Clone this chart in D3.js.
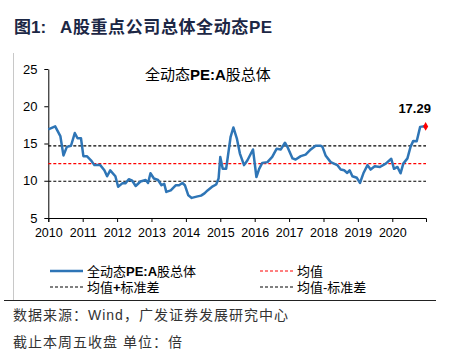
<!DOCTYPE html>
<html><head><meta charset="utf-8">
<script src="https://cdn.jsdelivr.net/npm/d3@7"></script>
<style>
body{margin:0;background:#fff;}
text{font-family:"Liberation Sans",Arial,"Noto Sans CJK SC",sans-serif;}
.cjk{font-family:"Liberation Sans","Noto Sans CJK SC",sans-serif;}
</style></head>
<body><svg id="c" width="452" height="358"></svg>
<script>
// decimal-year dates and PE values
const dates = [2010.0,2010.2,2010.35,2010.44,2010.54,2010.66,2010.77,2010.85,2010.95,2011.02,2011.12,2011.24,2011.34,2011.51,2011.63,2011.71,2011.8,2011.95,2012.03,2012.15,2012.24,2012.34,2012.44,2012.54,2012.68,2012.83,2012.9,2012.97,2013.07,2013.19,2013.29,2013.37,2013.43,2013.56,2013.71,2013.8,2013.9,2013.97,2014.07,2014.17,2014.34,2014.44,2014.54,2014.63,2014.78,2014.88,2014.95,2015.0,2015.07,2015.17,2015.3,2015.38,2015.48,2015.57,2015.69,2015.79,2015.95,2016.05,2016.13,2016.22,2016.37,2016.51,2016.64,2016.76,2016.88,2016.95,2017.1,2017.19,2017.34,2017.48,2017.63,2017.77,2017.92,2017.97,2018.06,2018.21,2018.4,2018.5,2018.6,2018.69,2018.76,2018.84,2018.97,2019.06,2019.16,2019.28,2019.37,2019.49,2019.64,2019.81,2019.97,2020.05,2020.15,2020.24,2020.32,2020.44,2020.53,2020.61,2020.71,2020.81,2020.9,2020.97];
const peValues = [16.9,17.3,16.0,13.4,14.55,14.7,16.4,15.7,15.7,13.3,13.3,12.75,12.1,12.1,11.4,10.6,11.4,10.6,9.2,9.65,9.65,10.2,10.0,9.3,9.9,10.1,9.7,11.0,10.3,10.1,9.4,9.6,8.5,8.7,9.4,9.4,9.7,9.4,8.04,7.7,7.9,8.0,8.3,8.7,9.25,9.5,10.3,13.2,11.6,11.6,15.9,17.15,15.7,13.65,12.1,12.75,14.2,10.5,11.6,12.4,12.5,13.2,14.3,14.2,15.1,14.55,13.0,12.85,13.3,13.5,14.2,14.7,14.7,14.55,13.4,12.5,12.1,11.5,11.4,11.05,11.4,10.6,10.4,9.7,11.0,12.1,11.5,11.95,11.85,12.3,12.95,11.6,11.85,11.0,12.3,13.0,14.55,15.35,15.3,17.23,17.3,17.29];
const refNames = ["均值","均值+标准差","均值-标准差"];
const refValues = [12.3,14.68,9.93];
const yearTicks = [2010,2011,2012,2013,2014,2015,2016,2017,2018,2019,2020];
const yTicks = [5,10,15,20,25];
const lastLabel = "17.29";

const svg = d3.select("#c");
const x = d3.scaleLinear().domain([2010, 2020.98]).range([48.3, 426]);
const y = d3.scaleLinear().domain([5, 25]).range([218, 69]);

// title
const tt = svg.append("text").attr("class","cjk").attr("y",33)
  .attr("font-size",17).attr("font-weight","bold").attr("fill","#1c2745");
tt.append("tspan").attr("x",14).text("图1:");
tt.append("tspan").attr("x",60).attr("letter-spacing",0.6).text("A股重点公司总体全动态PE");

// frame pieces
svg.append("line").attr("x1",13.5).attr("x2",13.5).attr("y1",53).attr("y2",300).attr("stroke","#c8c8c8").attr("stroke-width",1);
svg.append("line").attr("x1",4).attr("x2",436).attr("y1",300.5).attr("y2",300.5).attr("stroke","#222").attr("stroke-width",1);

// axes
const gx = svg.append("g").attr("transform",`translate(0,${y(5)})`)
  .call(d3.axisBottom(x).tickValues(yearTicks).tickFormat(d3.format("d")).tickSize(4).tickSizeOuter(4));
gx.selectAll("text").attr("font-size",12.5).attr("fill","#000").attr("dy","0.95em");
gx.selectAll("path,line").attr("stroke","#000");
const gy = svg.append("g").attr("transform",`translate(${x(2010)},0)`)
  .call(d3.axisLeft(y).tickValues(yTicks).tickSize(4).tickSizeOuter(0));
gy.selectAll("text").attr("font-size",13).attr("fill","#000").attr("dx","-0.3em");
gy.selectAll("path,line").attr("stroke","#000");

// reference lines
const refColors = ["#ff0000","#000","#000"];
refValues.forEach((v,i)=>{
  svg.append("line").attr("x1",x(2010)).attr("x2",x(2020.98))
    .attr("y1",y(v)).attr("y2",y(v)).attr("stroke",refColors[i])
    .attr("stroke-width",1.2).attr("stroke-dasharray","3,2");
});

// series
const data = dates.map((d,i)=>({d, v: peValues[i]}));
svg.append("path").datum(data)
  .attr("fill","none").attr("stroke","#2e75b6").attr("stroke-width",2.5).attr("stroke-linejoin","round")
  .attr("d", d3.line().x(p=>x(p.d)).y(p=>y(p.v)));
const last = data[data.length-1];
svg.append("path").attr("d", d3.symbol(d3.symbolDiamond, 22)())
  .attr("transform",`translate(${x(last.d)},${y(last.v)})`).attr("fill","#ff0000");
svg.append("text").attr("x",x(last.d)-11).attr("y",y(last.v)-13).attr("text-anchor","middle")
  .attr("font-size",13).attr("font-weight","bold").attr("fill","#000").text(lastLabel);

// inner title
svg.append("text").attr("class","cjk").attr("x",145).attr("y",80).attr("font-size",15).attr("fill","#000")
  .html('全动态<tspan font-weight="bold">PE:A</tspan>股总体');

// legend
const lg = svg.append("g").attr("class","cjk");
const legendItems = [
  {name:"全动态PE:A股总体", color:"#2e75b6", dash:null, w:2.5, x:50, y:271},
  {name:refNames[0], color:"#ff0000", dash:"3,2", w:1, x:260, y:271},
  {name:refNames[1], color:"#000", dash:"3,2", w:1, x:50, y:287},
  {name:refNames[2], color:"#000", dash:"3,2", w:1, x:260, y:287}
];
legendItems.forEach(it=>{
  lg.append("line").attr("x1",it.x).attr("x2",it.x+33).attr("y1",it.y).attr("y2",it.y)
    .attr("stroke",it.color).attr("stroke-width",it.w).attr("stroke-dasharray",it.dash);
  const t = lg.append("text").attr("x",it.x+37).attr("y",it.y+5).attr("font-size",13).attr("fill","#000");
  if(it.name.indexOf("PE:A")>=0){
    t.html('全动态<tspan font-weight="bold">PE:A</tspan>股总体');
  } else if(it.name.indexOf("+")>=0){
    t.html('均值<tspan font-weight="bold">+</tspan>标准差');
  } else t.text(it.name);
});

// footer
svg.append("text").attr("class","cjk").attr("x",13).attr("y",320).attr("font-size",14).attr("letter-spacing",1).attr("fill","#333")
  .text("数据来源：Wind，广发证券发展研究中心");
svg.append("text").attr("class","cjk").attr("x",13).attr("y",347).attr("font-size",14).attr("letter-spacing",1).attr("fill","#333")
  .text("截止本周五收盘 单位：倍");
</script></body></html>
